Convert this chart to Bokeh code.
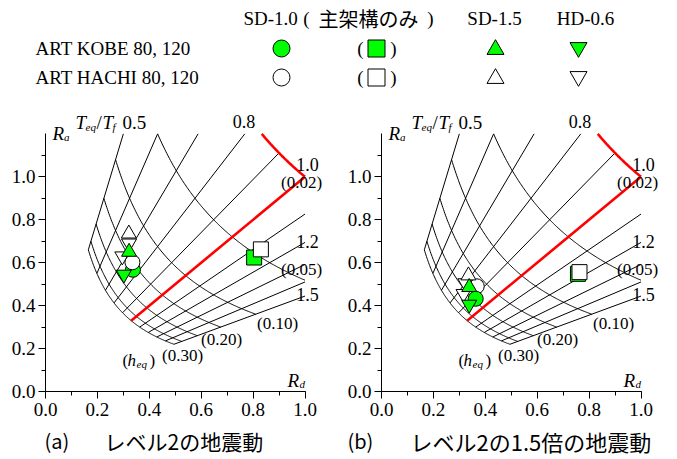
import numpy as np
from bokeh.plotting import figure
from bokeh.layouts import column, row
from bokeh.models import Range1d, Label, SingleIntervalTicker, PrintfTickFormatter
from bokeh.embed import file_html
from bokeh.resources import INLINE
from bokeh.core.properties import value

# ---- design-curve parameters ----
teq_tf = [0.5, 0.6, 0.7, 0.8, 0.9, 1.0, 1.1, 1.2, 1.3, 1.4, 1.5]
heq = [0.02, 0.05, 0.10, 0.15, 0.20, 0.25, 0.30]
dh = [1.00, 0.72, 0.54, 0.45, 0.39, 0.35, 0.33]   # reduction factor of each heq curve

RD_MAX = 1.0
RA_MAX = 1.2

# ---- response points (Rd, Ra) ----
# order of marker types: SD-1.0, SD-1.0 main frame only, SD-1.5, HD-0.6
a_kobe_rd = [0.337, 0.804, 0.322, 0.302]
a_kobe_ra = [0.567, 0.624, 0.650, 0.545]
a_hachi_rd = [0.335, 0.830, 0.321, 0.322]
a_hachi_ra = [0.602, 0.662, 0.735, 0.690]
a_hachi_hd2_rd = [0.296]
a_hachi_hd2_ra = [0.630]

b_kobe_rd = [0.363, 0.757, 0.338, 0.338]
b_kobe_ra = [0.432, 0.548, 0.486, 0.405]
b_hachi_rd = [0.367, 0.763, 0.335, 0.323]
b_hachi_ra = [0.490, 0.556, 0.540, 0.505]
b_hachi_hd2_rd = [0.316]
b_hachi_hd2_ra = [0.455]

GREEN = "#00ff00"
SERIF = "Liberation Serif"
CJK = "Noto Sans CJK JP"

PXU_X = 259.5
PXU_Y = 214.7
FRAME_W = 285
FRAME_H = 285


def xd(px):
    return (px - 45) / PXU_X


def yd(py):
    return (391 - py) / PXU_Y


def add_label(p, x, y, text, size="17px", style="normal", align="left", baseline="alphabetic", font=SERIF):
    p.add_layout(Label(x=x, y=y, text=text, text_font=font, text_font_size=size,
                       text_font_style=style, text_align=align, text_baseline=baseline,
                       text_color="black"))


def make_panel(mbl, mbr, kobe, hachi, hachi2, green_circle_first):
    p = figure(width=mbl + FRAME_W + mbr, height=6 + FRAME_H + 34,
               x_range=Range1d(0, FRAME_W / PXU_X), y_range=Range1d(0, FRAME_H / PXU_Y),
               output_backend="svg", toolbar_location=None,
               min_border_left=mbl, min_border_right=mbr, min_border_top=6, min_border_bottom=34)
    p.outline_line_color = None
    p.xgrid.visible = False
    p.ygrid.visible = False
    p.background_fill_color = "white"
    p.border_fill_color = "white"
    p.xaxis.ticker = SingleIntervalTicker(interval=0.2, num_minor_ticks=2)
    p.yaxis.ticker = SingleIntervalTicker(interval=0.2, num_minor_ticks=2)
    p.xaxis.bounds = (0, RD_MAX)
    p.yaxis.bounds = (0, RA_MAX)
    for ax in (p.xaxis, p.yaxis):
        ax.formatter = PrintfTickFormatter(format="%.1f")
        ax.major_label_text_font = SERIF
        ax.major_label_text_font_size = "19px"
        ax.major_label_text_color = "black"
        ax.axis_line_color = "black"
        ax.axis_line_width = 1
        ax.major_tick_line_color = "black"
        ax.minor_tick_line_color = "black"
        ax.major_tick_in = 0
        ax.major_tick_out = 7
        ax.minor_tick_in = 0
        ax.minor_tick_out = 4
    p.xaxis.major_label_standoff = 4
    p.yaxis.major_label_standoff = 3

    # design curves, limited to the plotted window
    hx, hy = [], []
    for d in dh[1:]:
        r_lo = max(teq_tf[0], d / RA_MAX)
        r_hi = min(teq_tf[-1], RD_MAX / d)
        rr = np.linspace(r_lo, r_hi, 161)
        hx.append(list(d * rr))
        hy.append(list(d / rr))
    rx, ry = [], []
    for r in teq_tf:
        if r == 1.0:
            continue
        d_end = min(dh[0], RD_MAX / r, RA_MAX * r)
        rx.append([dh[-1] * r, d_end * r])
        ry.append([dh[-1] / r, d_end / r])
    p.multi_line(hx, hy, line_color="black", line_width=1)
    p.multi_line(rx, ry, line_color="black", line_width=1)
    r_red = np.linspace(max(teq_tf[0], dh[0] / RA_MAX), 1.0, 81)
    p.line(dh[0] * r_red, dh[0] / r_red, line_color="red", line_width=2.6)
    p.line([dh[-1], dh[0]], [dh[-1], dh[0]], line_color="red", line_width=2.6)

    mk = ["circle", "square", "triangle", "inverted_triangle"]

    def pt(xs, ys, i, fill):
        p.scatter([xs[i]], [ys[i]], marker=mk[i], size=15, fill_color=fill,
                  line_color="black", line_width=1)

    pt(kobe[0], kobe[1], 1, GREEN)
    pt(hachi[0], hachi[1], 1, "white")
    if green_circle_first:
        pt(kobe[0], kobe[1], 0, GREEN)
        pt(hachi[0], hachi[1], 0, "white")
    else:
        pt(hachi[0], hachi[1], 0, "white")
    p.scatter(hachi2[0], hachi2[1], marker="inverted_triangle", size=15, fill_color="white",
              line_color="black", line_width=1)
    pt(hachi[0], hachi[1], 3, "white")
    pt(hachi[0], hachi[1], 2, "white")
    pt(kobe[0], kobe[1], 2, GREEN)
    if not green_circle_first:
        pt(kobe[0], kobe[1], 0, GREEN)
    pt(kobe[0], kobe[1], 3, GREEN)

    # in-chart texts
    add_label(p, xd(52), yd(133), "R", size="19px", style="italic")
    add_label(p, xd(63.5), yd(136), "a", size="11px", style="italic")
    add_label(p, xd(75), yd(122), "T", size="19px", style="italic")
    add_label(p, xd(85), yd(126), "eq", size="11px", style="italic")
    add_label(p, xd(96), yd(122), "/", size="19px")
    add_label(p, xd(102), yd(122), "T", size="19px", style="italic")
    add_label(p, xd(112), yd(126), "f", size="11px", style="italic")
    add_label(p, xd(122), yd(122), "0.5", size="19px")
    add_label(p, xd(243.5), yd(121), "0.8", size="18px", align="center", baseline="middle")
    add_label(p, xd(307), yd(164), "1.0", size="18px", align="center", baseline="middle")
    add_label(p, xd(301), yd(182), "(0.02)", size="17px", align="center", baseline="middle")
    add_label(p, xd(307), yd(241), "1.2", size="18px", align="center", baseline="middle")
    add_label(p, xd(301), yd(269), "(0.05)", size="17px", align="center", baseline="middle")
    add_label(p, xd(307), yd(294), "1.5", size="18px", align="center", baseline="middle")
    add_label(p, xd(277), yd(323), "(0.10)", size="17px", align="center", baseline="middle")
    add_label(p, xd(221), yd(339), "(0.20)", size="17px", align="center", baseline="middle")
    add_label(p, xd(182), yd(355), "(0.30)", size="17px", align="center", baseline="middle")
    add_label(p, xd(122), yd(360), "(", size="17px")
    add_label(p, xd(127), yd(360), "h", size="17px", style="italic")
    add_label(p, xd(136), yd(363), "eq", size="11px", style="italic")
    add_label(p, xd(149), yd(360), ")", size="17px")
    add_label(p, xd(287), yd(380), "R", size="19px", style="italic")
    add_label(p, xd(299), yd(383), "d", size="11px", style="italic")
    return p


pa = make_panel(45, 14, (a_kobe_rd, a_kobe_ra), (a_hachi_rd, a_hachi_ra),
                (a_hachi_hd2_rd, a_hachi_hd2_ra), True)
pb = make_panel(37, 11, (b_kobe_rd, b_kobe_ra), (b_hachi_rd, b_hachi_ra),
                (b_hachi_hd2_rd, b_hachi_hd2_ra), False)


def blank(h):
    f = figure(width=677, height=h, x_range=Range1d(0, 677), y_range=Range1d(h, 0),
               output_backend="svg", toolbar_location=None, min_border=0)
    f.axis.visible = False
    f.xgrid.visible = False
    f.ygrid.visible = False
    f.outline_line_color = None
    return f


# ---- legend block ----
lg = blank(100)
legend_headers = ["SD-1.0", "SD-1.5", "HD-0.6"]
row_labels = ["ART KOBE 80, 120", "ART HACHI 80, 120"]
row_fills = [GREEN, "white"]
row_y = [48, 77]
col_x = [281, 376, 495, 578]
col_marker = ["circle", "square", "triangle", "inverted_triangle"]


def ftext(f, x, y, t, size="19px", align="left", font=SERIF):
    f.text(x=[x], y=[y], text=[t], text_font=value(font), text_font_size=size,
           text_align=align, text_baseline="middle", text_color="black")


ftext(lg, 243, 18, legend_headers[0])
ftext(lg, 306, 18, "(", size="19px", align="center")
ftext(lg, 318, 18, "主架構のみ", size="20px", font=CJK)
ftext(lg, 430, 18, ")", size="19px", align="center")
ftext(lg, 494, 18, legend_headers[1], align="center")
ftext(lg, 585, 18, legend_headers[2], align="center")
for lab, fill, yy in zip(row_labels, row_fills, row_y):
    ftext(lg, 35, yy, lab)
    ftext(lg, 360, yy, "(", align="center")
    ftext(lg, 393, yy, ")", align="center")
    for cx, m in zip(col_x, col_marker):
        lg.scatter([cx], [yy + (1 if m == "triangle" else (-1 if m == "inverted_triangle" else 0))],
                   marker=m, size=17, fill_color=fill, line_color="black", line_width=1)

# ---- captions ----
cap = blank(34)
ftext(cap, 44, 15, "(a)", size="20px", font=CJK)
ftext(cap, 104, 15, "レベル2の地震動", size="21px", font=CJK)
ftext(cap, 347, 15, "(b)", size="20px", font=CJK)
ftext(cap, 410, 15, "レベル2の1.5倍の地震動", size="22px", font=CJK)

layout = column(lg, row(pa, pb), cap)
open("out.html", "w").write(file_html(layout, INLINE))
